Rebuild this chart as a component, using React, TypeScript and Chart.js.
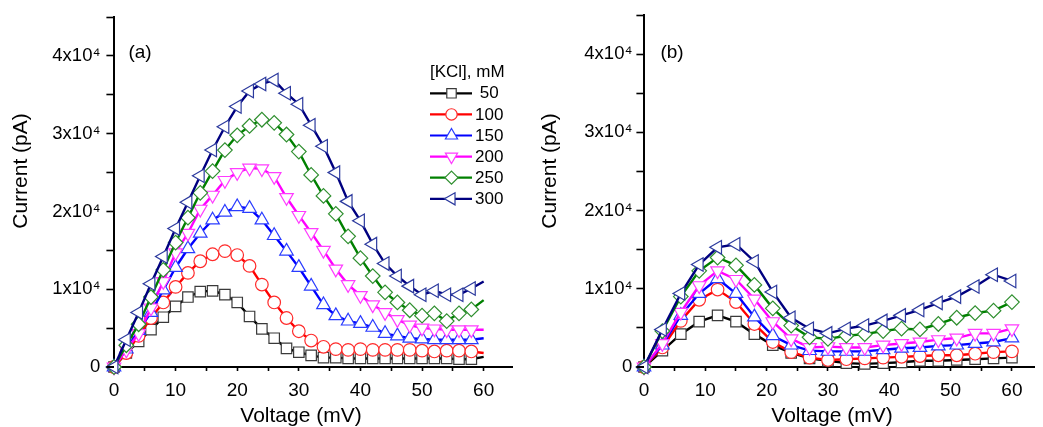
import React, { useEffect, useRef } from 'react';
import { Chart, registerables } from 'chart.js';

Chart.register(...registerables);

const FONT = "'Liberation Sans', Arial, Helvetica, sans-serif";

// ---- series meta ----
const seriesNames = ['50', '100', '150', '200', '250', '300'];
const lineColors = ['#000000', '#ff0000', '#0000ff', '#ff00ff', '#008000', '#000080'];
const markerColors = ['#3a3a3a', '#ff2a2a', '#2a3cff', '#ff3cff', '#2f8f2f', '#2c3a9e'];
const markerStyles = ['rect', 'circle', 'triangle', 'triangle', 'rectRot', 'triangle'];
const markerRotations = [0, 0, 0, 180, 0, 270];
const markerRadii = [7.4, 6.3, 7.8, 7.8, 7.3, 7.8];

// ---- panel (a) data: voltage (mV) and current (pA) ----
const voltA = [0, 2, 4, 6, 8, 10, 12, 14, 16, 18, 20, 22, 24, 26, 28, 30, 32, 34, 36, 38, 40, 42, 44, 46, 48, 50, 52, 54, 56, 58, 60];
const a50 = [0, 1800, 3300, 4800, 6400, 7800, 9000, 9700, 9800, 9300, 8300, 6500, 4900, 3700, 2400, 1900, 1500, 1200, 1200, 1100, 1100, 1100, 1100, 1100, 1100, 1100, 1100, 1100, 1000, 1000, 1300];
const a100 = [0, 1800, 4000, 6300, 8300, 10300, 12100, 13600, 14500, 14900, 14400, 13000, 10600, 8300, 6300, 4600, 3400, 2600, 2300, 2200, 2300, 2200, 2200, 2200, 2200, 2100, 2000, 2100, 2100, 2000, 1800];
const a150 = [0, 2300, 4700, 7000, 9900, 12800, 15200, 17200, 18900, 19900, 20600, 20400, 18900, 16900, 14900, 12800, 10400, 8000, 6600, 5900, 5600, 5100, 4300, 4000, 3700, 3600, 3500, 3500, 3500, 3500, 3700];
const a200 = [0, 2200, 4300, 7600, 11000, 14700, 17200, 20300, 22100, 24000, 25000, 25600, 25500, 24500, 21800, 19500, 17300, 15000, 12600, 10600, 9200, 8000, 7000, 6100, 5400, 5000, 4900, 4800, 4800, 4800, 4800];
const a250 = [0, 2800, 5500, 9000, 12500, 16000, 19200, 22400, 25200, 27900, 29800, 31000, 31800, 31400, 29900, 27700, 24700, 22000, 19700, 16800, 14000, 11700, 9600, 8300, 7300, 6600, 6900, 5900, 6900, 7400, 8600];
const a300 = [0, 3500, 7000, 10700, 14200, 17800, 21200, 24600, 27900, 30900, 33500, 35500, 36400, 36900, 35200, 33800, 31100, 28400, 25000, 21300, 18800, 15800, 13300, 11700, 10400, 9300, 9800, 9300, 9300, 10100, 11000];

// ---- panel (b) data ----
const voltB = [0, 3, 6, 9, 12, 15, 18, 21, 24, 27, 30, 33, 36, 39, 42, 45, 48, 51, 54, 57, 60];
const b50 = [0, 2100, 4200, 5800, 6600, 5800, 4200, 2800, 1800, 1100, 800, 500, 400, 500, 600, 800, 800, 900, 1000, 1100, 1200];
const b100 = [0, 2500, 5900, 8600, 9900, 8300, 5500, 3200, 1900, 1200, 900, 1000, 1100, 1200, 1300, 1400, 1500, 1500, 1700, 1900, 2000];
const b150 = [0, 2800, 6600, 9400, 11300, 9400, 6400, 4000, 2800, 2100, 2000, 2000, 2000, 2200, 2400, 2500, 2700, 2800, 3000, 3200, 3700];
const b200 = [0, 3000, 7000, 10400, 12300, 11200, 8700, 5800, 3600, 2500, 2600, 2500, 2500, 2800, 3000, 3200, 3500, 3700, 4300, 4300, 4900];
const b250 = [0, 4600, 9000, 12300, 14000, 13000, 10500, 7500, 5300, 3800, 3600, 4000, 4200, 4600, 4900, 4800, 5500, 6300, 6900, 7200, 8300];
const b300 = [0, 4800, 9400, 13100, 15300, 15700, 13500, 9600, 6300, 4900, 4300, 4900, 5300, 5900, 6600, 7300, 8200, 9000, 10300, 11800, 11000];

// ---- ticks ----
const xTickValues = [0, 5, 10, 15, 20, 25, 30, 35, 40, 45, 50, 55, 60];
const xTickLabels = ['0', '', '10', '', '20', '', '30', '', '40', '', '50', '', '60'];
const yTickValues = [0, 5000, 10000, 15000, 20000, 25000, 30000, 35000, 40000, 45000];
const yTickLabels = ['0', '', '1x10\u2074', '', '2x10\u2074', '', '3x10\u2074', '', '4x10\u2074', ''];

const xTitle = 'Voltage (mV)';
const yTitle = 'Current (pA)';
const legendTitle = '[KCl], mM';

type Geo = {
  width: number;
  yAxisWidth: number;
  padRight: number;
  xMax: number;
  yTickPad: number;
  yTitleX: number;
  xTitleX: number;
  labelX: number;
};

function pathMarker(ctx: CanvasRenderingContext2D, style: string, rotDeg: number, r: number, x: number, y: number) {
  ctx.beginPath();
  if (style === 'rect') {
    const s = Math.SQRT1_2 * r;
    ctx.rect(x - s, y - s, 2 * s, 2 * s);
  } else if (style === 'circle') {
    ctx.arc(x, y, r, 0, Math.PI * 2);
  } else if (style === 'rectRot') {
    ctx.moveTo(x, y - r);
    ctx.lineTo(x + r, y);
    ctx.lineTo(x, y + r);
    ctx.lineTo(x - r, y);
  } else {
    let rad = (rotDeg * Math.PI) / 180;
    for (let k = 0; k < 3; k++) {
      const px = x + Math.sin(rad) * r;
      const py = y - Math.cos(rad) * r;
      if (k === 0) ctx.moveTo(px, py);
      else ctx.lineTo(px, py);
      rad += (2 * Math.PI) / 3;
    }
  }
  ctx.closePath();
}

function Panel({ label, volts, series, geo, legend, hideLast }: {
  label: string; volts: number[]; series: number[][]; geo: Geo; legend: boolean; hideLast: boolean;
}) {
  const ref = useRef<HTMLCanvasElement | null>(null);

  useEffect(() => {
    const canvas = ref.current;
    if (!canvas) return;

    const decor = {
      id: 'decor',
      afterDraw(chart: any) {
        const ctx: CanvasRenderingContext2D = chart.ctx;
        const xs = chart.scales.x;
        const ys = chart.scales.y;
        ctx.save();
        // x-axis line extends slightly left of the y axis
        ctx.strokeStyle = '#000';
        ctx.lineWidth = 2;
        ctx.beginPath();
        ctx.moveTo(xs.left - 7.6, ys.bottom);
        ctx.lineTo(xs.left, ys.bottom);
        ctx.stroke();

        ctx.fillStyle = '#000';
        // panel label
        ctx.font = `19px ${FONT}`;
        ctx.textAlign = 'center';
        ctx.textBaseline = 'middle';
        ctx.fillText(label, geo.labelX, 53);
        // y title
        ctx.save();
        ctx.translate(geo.yTitleX, 171);
        ctx.rotate(-Math.PI / 2);
        ctx.font = `21px ${FONT}`;
        ctx.textAlign = 'center';
        ctx.textBaseline = 'middle';
        ctx.fillText(yTitle, 0, 0);
        ctx.restore();
        // x title
        ctx.font = `21px ${FONT}`;
        ctx.textAlign = 'center';
        ctx.textBaseline = 'alphabetic';
        ctx.fillText(xTitle, geo.xTitleX, 422);

        if (legend) {
          ctx.font = `17px ${FONT}`;
          ctx.textAlign = 'left';
          ctx.textBaseline = 'middle';
          ctx.fillText(legendTitle, 430, 72);
          seriesNames.forEach((name, i) => {
            const yy = 93.3 + i * 21.1;
            ctx.strokeStyle = lineColors[i];
            ctx.lineWidth = 2.2;
            ctx.beginPath();
            ctx.moveTo(430, yy);
            ctx.lineTo(472, yy);
            ctx.stroke();
            pathMarker(ctx, markerStyles[i], markerRotations[i], markerRadii[i] * 0.9, 451.5, yy);
            ctx.fillStyle = '#fff';
            ctx.fill();
            ctx.strokeStyle = markerColors[i];
            ctx.lineWidth = 1.2;
            ctx.stroke();
            ctx.fillStyle = '#000';
            ctx.fillText(name.length < 3 ? ' ' + name : name, 475, yy + 0.5);
          });
        }
        ctx.restore();
      },
    };

    const datasets = series.map((vals, i) => ({
      label: seriesNames[i],
      data: volts.map((v, j) => ({ x: v, y: vals[j] })),
      borderColor: lineColors[i],
      borderWidth: 2.4,
      backgroundColor: '#ffffff',
      pointStyle: markerStyles[i],
      pointRotation: markerRotations[i],
      pointRadius: volts.map((_, j) => (hideLast && j === volts.length - 1 ? 0 : markerRadii[i])),
      pointBackgroundColor: '#ffffff',
      pointBorderColor: markerColors[i],
      pointBorderWidth: 1.2,
      tension: 0,
      fill: false,
      clip: false as any,
      order: series.length - i,
    }));

    const chart = new Chart(canvas, {
      type: 'line',
      data: { datasets },
      options: {
        animation: false,
        responsive: false,
        devicePixelRatio: 1,
        layout: { padding: { left: 0, right: geo.padRight, top: 13, bottom: 0 } },
        plugins: { legend: { display: false }, tooltip: { enabled: false } },
        events: [],
        scales: {
          x: {
            type: 'linear',
            position: 'bottom',
            min: 0,
            max: geo.xMax,
            afterFit(s: any) { s.height = 60; },
            afterBuildTicks(s: any) { s.ticks = xTickValues.map((v) => ({ value: v })); },
            ticks: {
              autoSkip: false,
              maxRotation: 0,
              padding: 8,
              color: '#000',
              font: { family: FONT, size: 19 },
              callback: (v: any) => xTickLabels[xTickValues.indexOf(Number(v))] ?? '',
            },
            grid: { display: true, drawOnChartArea: false, drawTicks: true, tickLength: 4, tickColor: '#000', tickWidth: 1.6 },
            border: { display: true, color: '#000', width: 2 },
          },
          y: {
            type: 'linear',
            position: 'left',
            min: 0,
            max: 45000,
            afterFit(s: any) { s.width = geo.yAxisWidth; },
            afterBuildTicks(s: any) { s.ticks = yTickValues.map((v) => ({ value: v })); },
            ticks: {
              autoSkip: false,
              padding: geo.yTickPad,
              color: '#000',
              font: { family: FONT, size: 18.5 },
              callback: (v: any) => yTickLabels[yTickValues.indexOf(Number(v))] ?? '',
            },
            grid: { display: true, drawOnChartArea: false, drawTicks: true, tickLength: 7.6, tickColor: '#000', tickWidth: 1.6 },
            border: { display: true, color: '#000', width: 2 },
          },
        },
      },
      plugins: [decor],
    } as any);

    return () => chart.destroy();
  }, []);

  return <canvas ref={ref} width={geo.width} height={427} style={{ display: 'block', width: geo.width, height: 427 }} />;
}

const geoA: Geo = { width: 521, yAxisWidth: 114, padRight: 3, xMax: 64.6, yTickPad: 6, yTitleX: 21, xTitleX: 301, labelX: 140 };
const geoB: Geo = { width: 522, yAxisWidth: 123, padRight: 1, xMax: 63.6, yTickPad: 4, yTitleX: 29, xTitleX: 311, labelX: 151 };

export default function App() {
  return (
    <div style={{ position: 'absolute', left: 0, top: 0, width: 1043, height: 427, display: 'flex', background: '#fff', overflow: 'hidden' }}>
      <Panel label="(a)" volts={voltA} series={[a50, a100, a150, a200, a250, a300]} geo={geoA} legend={true} hideLast={true} />
      <Panel label="(b)" volts={voltB} series={[b50, b100, b150, b200, b250, b300]} geo={geoB} legend={false} hideLast={false} />
    </div>
  );
}
